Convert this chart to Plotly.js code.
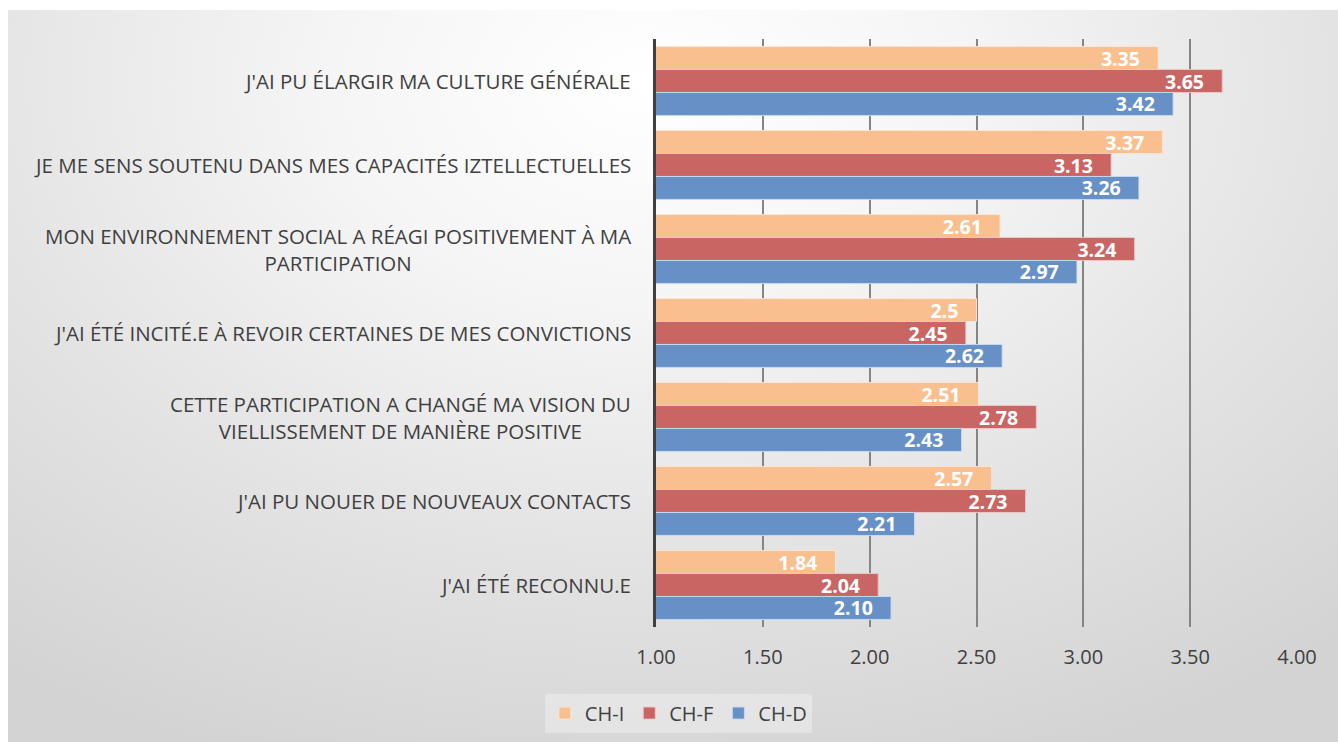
<!DOCTYPE html>
<html>
<head>
<meta charset="utf-8">
<script src="https://cdn.plot.ly/plotly-3.0.1.min.js"></script>
<style>
  html, body { margin: 0; padding: 0; background: #ffffff; }
  #bg { position: absolute; left: 8px; top: 10px; width: 1330px; height: 732px;
        background: radial-gradient(ellipse 80% 100% at 48% 10%, #ffffff 0%, #f5f5f5 30%, #e3e3e3 65%, #d3d3d3 100%); }
  #chart { position: absolute; left: 0; top: 0; width: 1338px; height: 742px; }
</style>
</head>
<body>
<div id="bg"></div>
<div id="chart"></div>
<script>
// ---- data ----
const categories = [
  "J'AI PU ÉLARGIR MA CULTURE GÉNÉRALE",
  "JE ME SENS SOUTENU DANS MES CAPACITÉS IZTELLECTUELLES",
  "MON ENVIRONNEMENT SOCIAL A RÉAGI POSITIVEMENT À MA<br>PARTICIPATION",
  "J'AI ÉTÉ INCITÉ.E À REVOIR CERTAINES DE MES CONVICTIONS",
  "CETTE PARTICIPATION A CHANGÉ MA VISION DU<br>VIELLISSEMENT DE MANIÈRE POSITIVE",
  "J'AI PU NOUER DE NOUVEAUX CONTACTS",
  "J'AI ÉTÉ RECONNU.E"
];
const seriesNames = ["CH-I", "CH-F", "CH-D"];
const chI = [3.35, 3.37, 2.61, 2.5, 2.51, 2.57, 1.84];
const chF = [3.65, 3.13, 3.24, 2.45, 2.78, 2.73, 2.04];
const chD = [3.42, 3.26, 2.97, 2.62, 2.43, 2.21, 2.10];
const labelsI = ["3.35", "3.37", "2.61", "2.5", "2.51", "2.57", "1.84"];
const labelsF = ["3.65", "3.13", "3.24", "2.45", "2.78", "2.73", "2.04"];
const labelsD = ["3.42", "3.26", "2.97", "2.62", "2.43", "2.21", "2.10"];
const xTicks = [1.0, 1.5, 2.0, 2.5, 3.0, 3.5, 4.0];
const xTickLabels = ["1.00", "1.50", "2.00", "2.50", "3.00", "3.50", "4.00"];

// ---- style ----
const colors = ["#F9BF8F", "#C96663", "#6690C6"];
const lineColors = ["rgba(255,230,210,0.9)", "rgba(240,200,198,0.9)", "rgba(200,220,245,0.9)"];
const values = [chI, chF, chD];
const labels = [labelsI, labelsF, labelsD];

const traces = values.map((v, i) => ({
  type: 'bar',
  orientation: 'h',
  name: seriesNames[i],
  y: categories,
  x: v,
  base: 0,
  text: labels[i],
  texttemplate: '%{text}\u00a0\u00a0\u00a0',
  textposition: 'inside',
  insidetextanchor: 'end',
  constraintext: 'none',
  textfont: { family: 'Open Sans, sans-serif', size: 19.5, color: '#ffffff', weight: 'bold' },
  marker: { color: colors[i], line: { color: lineColors[i], width: 1 } },
  hoverinfo: 'x+name'
}));

const annotations = categories.map(c => ({
  xref: 'paper', yref: 'y',
  x: -0.0359, y: c,
  xanchor: 'right', yanchor: 'middle',
  align: 'center',
  text: c,
  showarrow: false,
  font: { family: 'Open Sans, sans-serif', size: 20.5, color: '#404040' }
}));

const layout = {
  width: 1338, height: 742,
  paper_bgcolor: 'rgba(0,0,0,0)',
  plot_bgcolor: 'rgba(0,0,0,0)',
  margin: { l: 656, r: 41, t: 39, b: 115, pad: 0 },
  barmode: 'group',
  bargap: 0.18,
  bargroupgap: 0,
  uniformtext: { mode: 'show', minsize: 19.5 },
  xaxis: {
    range: [1, 4],
    tickvals: xTicks,
    ticktext: xTickLabels,
    showgrid: true,
    gridcolor: '#858585',
    gridwidth: 2,
    zeroline: false,
    showline: false,
    ticks: '',
    ticklabelstandoff: 16,
    tickfont: { family: 'Open Sans, sans-serif', size: 20, color: '#404040' }
  },
  yaxis: {
    type: 'category',
    autorange: 'reversed',
    showticklabels: false,
    showgrid: false,
    showline: true,
    linecolor: '#404040',
    linewidth: 3,
    ticks: ''
  },
  legend: {
    orientation: 'h',
    xref: 'container', yref: 'container',
    x: 0.507, xanchor: 'center',
    y: 0.039, yanchor: 'middle',
    bgcolor: 'rgba(255,255,255,0.3)',
    font: { family: 'Open Sans, sans-serif', size: 20, color: '#404040' },
    traceorder: 'normal'
  },
  showlegend: true,
  annotations: annotations
};

Plotly.newPlot('chart', traces, layout, { displayModeBar: false, staticPlot: true });
</script>
</body>
</html>
